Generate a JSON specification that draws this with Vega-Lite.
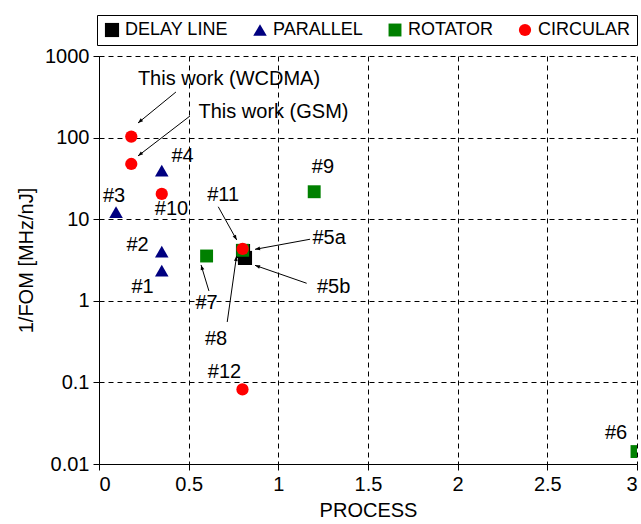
{
  "$schema": "https://vega.github.io/schema/vega-lite/v6.json",
  "width": 538,
  "height": 408,
  "autosize": "none",
  "padding": {"left": 99, "top": 56, "right": 4, "bottom": 60},
  "background": "white",
  "config": {
    "font": "Liberation Sans",
    "view": {"stroke": null},
    "axis": {
      "domainColor": "black",
      "tickColor": "black",
      "labelColor": "black",
      "titleColor": "black",
      "labelFontSize": 20,
      "titleFontSize": 20,
      "titleFontWeight": "normal",
      "grid": true,
      "gridColor": "black",
      "gridDash": [5, 4],
      "gridOpacity": 1,
      "tickSize": 6,
      "labelPadding": 4
    }
  },
  "datasets": {
    "points": [
      {"type": "DELAY LINE", "name": "#5a", "x": 0.803, "y": 4.07},
      {"type": "DELAY LINE", "name": "#5b", "x": 0.814, "y": 3.35},
      {"type": "PARALLEL", "name": "#1", "x": 0.35, "y": 2.34},
      {"type": "PARALLEL", "name": "#2", "x": 0.35, "y": 4.0},
      {"type": "PARALLEL", "name": "#3", "x": 0.095, "y": 12.2},
      {"type": "PARALLEL", "name": "#4", "x": 0.35, "y": 39.3},
      {"type": "ROTATOR", "name": "#6", "x": 3.0, "y": 0.0142},
      {"type": "ROTATOR", "name": "#7", "x": 0.6, "y": 3.54},
      {"type": "ROTATOR", "name": "#8", "x": 0.801, "y": 4.16},
      {"type": "ROTATOR", "name": "#9", "x": 1.2, "y": 21.7},
      {"type": "CIRCULAR", "name": "This work (WCDMA)", "x": 0.18, "y": 103},
      {"type": "CIRCULAR", "name": "This work (GSM)", "x": 0.18, "y": 47.5},
      {"type": "CIRCULAR", "name": "#10", "x": 0.35, "y": 20.4},
      {"type": "CIRCULAR", "name": "#11", "x": 0.801, "y": 4.32},
      {"type": "CIRCULAR", "name": "#12", "x": 0.8, "y": 0.082}
    ],
    "labels": [
      {"label": "This work (WCDMA)", "x": 0.725, "y": 522},
      {"label": "This work (GSM)", "x": 0.973, "y": 206},
      {"label": "#4", "x": 0.466, "y": 59.6},
      {"label": "#3", "x": 0.084, "y": 19.2},
      {"label": "#10", "x": 0.404, "y": 13.3},
      {"label": "#2", "x": 0.215, "y": 4.83},
      {"label": "#1", "x": 0.243, "y": 1.48},
      {"label": "#11", "x": 0.692, "y": 19.8},
      {"label": "#9", "x": 1.249, "y": 43.6},
      {"label": "#5a", "x": 1.283, "y": 5.89},
      {"label": "#5b", "x": 1.308, "y": 1.48},
      {"label": "#7", "x": 0.6, "y": 0.94},
      {"label": "#8", "x": 0.653, "y": 0.34},
      {"label": "#12", "x": 0.7, "y": 0.134},
      {"label": "#6", "x": 2.883, "y": 0.024}
    ],
    "arrows": [
      {"label": "This work (WCDMA)", "x": 0.429, "y": 362, "x2": 0.2175, "y2": 151, "dir": 230.8},
      {"label": "This work (GSM)", "x": 0.5075, "y": 184, "x2": 0.2175, "y2": 59.6, "dir": 232.4},
      {"label": "#11", "x": 0.665, "y": 14.2, "x2": 0.768, "y2": 5.56, "dir": 151.1},
      {"label": "#5a", "x": 1.177, "y": 5.68, "x2": 0.87, "y2": 4.27, "dir": 259.7},
      {"label": "#5b", "x": 1.158, "y": 1.64, "x2": 0.87, "y2": 2.72, "dir": 289.2},
      {"label": "#7", "x": 0.613, "y": 1.32, "x2": 0.569, "y2": 2.75, "dir": 342.9},
      {"label": "#8", "x": 0.715, "y": 0.55, "x2": 0.767, "y2": 3.54, "dir": 7.9}
    ]
  },
  "layer": [
    {
      "data": {"name": "points"},
      "mark": {"type": "point", "filled": true, "opacity": 1, "clip": true},
      "encoding": {
        "x": {
          "field": "x", "type": "quantitative",
          "scale": {"domain": [0, 3], "nice": false, "zero": false},
          "axis": {"values": [0, 0.5, 1, 1.5, 2, 2.5, 3], "format": "~g", "title": "PROCESS", "titlePadding": 6}
        },
        "y": {
          "field": "y", "type": "quantitative",
          "scale": {"type": "log", "domain": [0.01, 1000], "nice": false},
          "axis": {"values": [0.01, 0.1, 1, 10, 100, 1000], "format": "~g", "title": "1/FOM [MHz/nJ]", "titlePadding": 8}
        },
        "color": {
          "field": "type", "type": "nominal",
          "scale": {"domain": ["DELAY LINE", "PARALLEL", "ROTATOR", "CIRCULAR"], "range": ["#000000", "#000080", "#008000", "#ff0000"]},
          "legend": {
            "orient": "none", "legendX": -2, "legendY": -41, "direction": "horizontal",
            "title": null, "strokeColor": "black", "fillColor": "white", "padding": 6,
            "labelFontSize": 18, "labelColor": "black", "symbolSize": 130, "labelOffset": 4,
            "columnPadding": 23, "symbolStrokeWidth": 0
          }
        },
        "shape": {
          "field": "type", "type": "nominal",
          "scale": {"domain": ["DELAY LINE", "PARALLEL", "ROTATOR", "CIRCULAR"], "range": ["square", "triangle-up", "square", "circle"]}
        },
        "size": {
          "field": "type", "type": "nominal",
          "scale": {"domain": ["DELAY LINE", "PARALLEL", "ROTATOR", "CIRCULAR"], "range": [200, 150, 170, 140]},
          "legend": null
        }
      }
    },
    {
      "data": {"name": "arrows"},
      "mark": {"type": "rule", "color": "black", "strokeWidth": 1},
      "encoding": {
        "x": {"field": "x", "type": "quantitative"},
        "y": {"field": "y", "type": "quantitative"},
        "x2": {"field": "x2"},
        "y2": {"field": "y2"}
      }
    },
    {
      "data": {"name": "arrows"},
      "mark": {"type": "point", "filled": true, "color": "black", "opacity": 1, "shape": "M0,0L-0.45,1.2L0.45,1.2Z", "size": 70},
      "encoding": {
        "x": {"field": "x2", "type": "quantitative"},
        "y": {"field": "y2", "type": "quantitative"},
        "angle": {"field": "dir", "type": "quantitative", "scale": null}
      }
    },
    {
      "data": {"name": "labels"},
      "mark": {"type": "text", "fontSize": 20, "color": "black", "align": "center", "baseline": "middle"},
      "encoding": {
        "x": {"field": "x", "type": "quantitative"},
        "y": {"field": "y", "type": "quantitative"},
        "text": {"field": "label"}
      }
    }
  ]
}
